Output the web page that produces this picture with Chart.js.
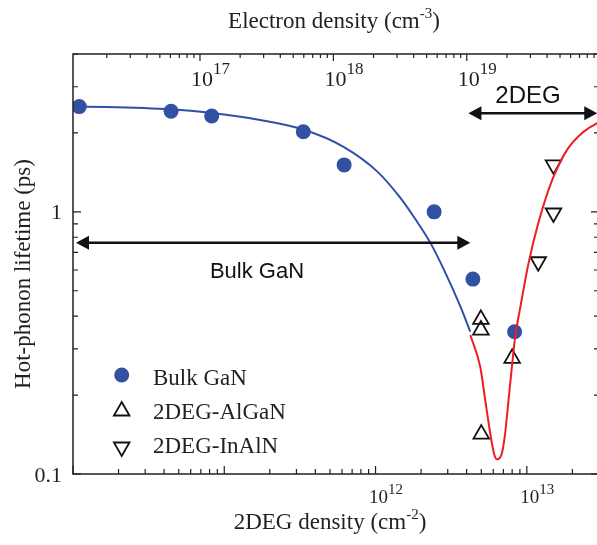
<!DOCTYPE html>
<html lang="en">
<head>
  <meta charset="UTF-8" />
  <title>Hot-phonon lifetime</title>
  <style>
    html, body { margin: 0; padding: 0; background: #fff; overflow: hidden; }
    canvas { display: block; }
  </style>
</head>
<body>
  <canvas id="chart" width="600" height="545"></canvas>
  <script src="https://cdn.jsdelivr.net/npm/chart.js"></script>
  <script>
    // measured points (2DEG density in cm^-2, lifetime in ps)
    const bulkX = [1.10e10, 4.45e10, 8.26e10, 3.33e11, 6.2e11, 2.44e12, 4.4e12, 8.3e12];
    const bulkY = [2.52, 2.42, 2.32, 2.02, 1.51, 1.0, 0.554, 0.349];
    const alganX = [4.97e12, 4.97e12, 8.0e12, 5.0e12];
    const alganY = [0.389, 0.354, 0.276, 0.142];
    const inalnX = [1.50e13, 1.50e13, 1.19e13];
    const inalnY = [1.51, 0.99, 0.645];

    // model curves
    const bulkFitX = [1.0e10, 4.45e10, 8.26e10, 1.73e11, 3.33e11, 6.14e11, 1.02e12, 1.46e12, 1.83e12, 2.30e12, 2.88e12, 3.63e12, 4.23e12];
    const bulkFitY = [2.53, 2.46, 2.38, 2.24, 2.06, 1.77, 1.43, 1.13, 0.939, 0.763, 0.589, 0.437, 0.349];
    const degFitX = [4.23e12, 4.92e12, 5.31e12, 5.73e12, 6.08e12, 6.34e12, 6.84e12, 7.19e12, 7.57e12, 7.97e12, 8.38e12, 9.04e12, 1.026e13, 1.19e13, 1.47e13, 1.84e13, 2.37e13, 3.0e13];
    const degFitY = [0.339, 0.2566, 0.1915, 0.143, 0.1192, 0.1138, 0.12, 0.143, 0.1915, 0.2566, 0.334, 0.43, 0.636, 0.904, 1.32, 1.72, 2.02, 2.20];

    // axis ranges and labels
    const X_MIN = 1e10, X_MAX = 3e13;        // 2DEG density (cm^-2)
    const X2_MIN = 1.117e16, X2_MAX = 9.8e19; // electron density (cm^-3)
    const Y_MIN = 0.1, Y_MAX = 4;
    const bottomLabels = [[1e12, '12'], [1e13, '13']];
    const topLabels = [[1e17, '17'], [1e18, '18'], [1e19, '19']];
    const yLabels = [[0.1, '0.1'], [1, '1']];

    // range arrows
    const bulkArrow = { from: 1.047e10, to: 4.23e12, y: 0.763, text: 'Bulk GaN' };
    const degArrow = { from: 4.11e12, to: 2.92e13, y: 2.376, text: '2DEG' };

    const BLUE = '#3351a3';
    const BLUE_LINE = '#3050a8';
    const RED = '#ee1d23';
    const AXIS = '#231f20';
    const serif = '"Liberation Serif", "Times New Roman", serif';
    const sans = '"Liberation Sans", Arial, sans-serif';

    function pts(xs, ys) {
      return xs.map((x, i) => ({ x: x, y: ys[i] }));
    }

    function logTicks(min, max) {
      const out = [];
      for (let k = Math.floor(Math.log10(min)); k <= Math.ceil(Math.log10(max)); k++) {
        for (let m = 1; m <= 9; m++) {
          const v = m * Math.pow(10, k);
          if (v >= min * 0.999 && v <= max * 1.001) out.push({ v: v, major: m === 1 });
        }
      }
      return out;
    }

    // text made of pieces: [text, size, raise]
    function richText(ctx, parts, x, y, align) {
      let total = 0;
      parts.forEach(p => {
        ctx.font = p[1] + 'px ' + serif;
        p.w = ctx.measureText(p[0]).width;
        total += p.w;
      });
      let cx = align === 'center' ? x - total / 2 : x;
      ctx.textAlign = 'left';
      ctx.textBaseline = 'alphabetic';
      parts.forEach(p => {
        ctx.font = p[1] + 'px ' + serif;
        ctx.fillText(p[0], cx, y - (p[2] || 0));
        cx += p.w;
      });
    }

    function arrow(ctx, x1, x2, y) {
      const hl = 13, hw = 7;
      ctx.lineWidth = 2.5;
      ctx.beginPath();
      ctx.moveTo(x1 + hl - 2, y);
      ctx.lineTo(x2 - hl + 2, y);
      ctx.stroke();
      ctx.beginPath();
      ctx.moveTo(x1, y);
      ctx.lineTo(x1 + hl, y - hw);
      ctx.lineTo(x1 + hl, y + hw);
      ctx.closePath();
      ctx.fill();
      ctx.beginPath();
      ctx.moveTo(x2, y);
      ctx.lineTo(x2 - hl, y - hw);
      ctx.lineTo(x2 - hl, y + hw);
      ctx.closePath();
      ctx.fill();
    }

    const framePlugin = {
      id: 'frame',
      afterDraw(chart) {
        const ctx = chart.ctx;
        const { left, right, top, bottom } = chart.chartArea;
        const sx = chart.scales.x, sx2 = chart.scales.x2, sy = chart.scales.y;
        ctx.save();
        ctx.strokeStyle = AXIS;
        ctx.fillStyle = AXIS;

        // frame
        ctx.lineWidth = 1.5;
        ctx.beginPath();
        ctx.moveTo(right, top);
        ctx.lineTo(left, top);
        ctx.lineTo(left, bottom);
        ctx.lineTo(right, bottom);
        ctx.lineTo(right, top);
        ctx.stroke();

        // inward ticks
        ctx.lineWidth = 1.2;
        ctx.beginPath();
        logTicks(X_MIN, X_MAX).forEach(t => {
          const px = sx.getPixelForValue(t.v);
          ctx.moveTo(px, bottom);
          ctx.lineTo(px, bottom - (t.major ? 8 : 5));
        });
        logTicks(X2_MIN, X2_MAX).forEach(t => {
          const px = sx2.getPixelForValue(t.v);
          ctx.moveTo(px, top);
          ctx.lineTo(px, top + (t.major ? 7 : 4));
        });
        logTicks(Y_MIN, Y_MAX).forEach(t => {
          const py = sy.getPixelForValue(t.v);
          const len = t.major ? 8 : 5;
          ctx.moveTo(left, py);
          ctx.lineTo(left + len, py);
          ctx.moveTo(right, py);
          ctx.lineTo(right - len, py);
        });
        ctx.stroke();

        // tick labels
        ctx.fillStyle = '#231f20';
        bottomLabels.forEach(l => {
          const px = sx.getPixelForValue(l[0]);
          richText(ctx, [['10', 19], [l[1], 15, 9]], px - 6.5, 503, 'left');
        });
        topLabels.forEach(l => {
          const px = sx2.getPixelForValue(l[0]);
          richText(ctx, [['10', 22], [l[1], 17, 12]], px - 9, 86, 'left');
        });
        ctx.font = '22px ' + serif;
        ctx.textAlign = 'right';
        ctx.textBaseline = 'alphabetic';
        yLabels.forEach(l => {
          ctx.fillText(l[1], left - 11, sy.getPixelForValue(l[0]) + 7.5);
        });

        // axis titles
        richText(ctx, [['Electron density (cm', 23], ['-3', 15, 10], [')', 23]], 334, 28, 'center');
        richText(ctx, [['2DEG density (cm', 23], ['-2', 15, 10], [')', 23]], 330, 529, 'center');
        ctx.save();
        ctx.translate(30, 274);
        ctx.rotate(-Math.PI / 2);
        ctx.font = '23px ' + serif;
        ctx.textAlign = 'center';
        ctx.fillText('Hot-phonon lifetime (ps)', 0, 0);
        ctx.restore();

        // range arrows
        ctx.fillStyle = '#111';
        ctx.strokeStyle = '#111';
        [bulkArrow, degArrow].forEach(a => {
          const y = sy.getPixelForValue(a.y);
          arrow(ctx, sx.getPixelForValue(a.from), sx.getPixelForValue(a.to), y);
        });
        ctx.font = '22px ' + sans;
        ctx.textAlign = 'center';
        ctx.textBaseline = 'middle';
        ctx.fillText(bulkArrow.text, 257, 272);
        ctx.font = '24px ' + sans;
        ctx.fillText(degArrow.text, 528, 96);

        // legend
        const lx = 121.7;
        ctx.fillStyle = BLUE;
        ctx.beginPath();
        ctx.arc(lx, 375, 7.5, 0, Math.PI * 2);
        ctx.fill();
        ctx.strokeStyle = '#111';
        ctx.lineWidth = 1.8;
        const r = 9;
        ctx.beginPath();
        ctx.moveTo(lx, 411 - r);
        ctx.lineTo(lx + r * 0.866, 411 + r / 2);
        ctx.lineTo(lx - r * 0.866, 411 + r / 2);
        ctx.closePath();
        ctx.stroke();
        ctx.beginPath();
        ctx.moveTo(lx, 447 + r);
        ctx.lineTo(lx + r * 0.866, 447 - r / 2);
        ctx.lineTo(lx - r * 0.866, 447 - r / 2);
        ctx.closePath();
        ctx.stroke();
        ctx.fillStyle = '#231f20';
        ctx.font = '23px ' + serif;
        ctx.textAlign = 'left';
        ctx.textBaseline = 'alphabetic';
        ctx.fillText('Bulk GaN', 153, 385);
        ctx.fillText('2DEG-AlGaN', 153, 419);
        ctx.fillText('2DEG-InAlN', 153, 453);

        ctx.restore();
      }
    };

    new Chart(document.getElementById('chart'), {
      type: 'scatter',
      data: {
        datasets: [
          {
            label: 'Bulk fit',
            data: pts(bulkFitX, bulkFitY),
            showLine: true,
            borderColor: BLUE_LINE,
            borderWidth: 2,
            pointRadius: 0,
            cubicInterpolationMode: 'monotone',
            order: 0
          },
          {
            label: '2DEG fit',
            data: pts(degFitX, degFitY),
            showLine: true,
            borderColor: RED,
            borderWidth: 2,
            pointRadius: 0,
            cubicInterpolationMode: 'monotone',
            order: 0
          },
          {
            label: 'Bulk GaN',
            data: pts(bulkX, bulkY),
            pointStyle: 'circle',
            pointRadius: 7.5,
            backgroundColor: BLUE,
            borderWidth: 0,
            order: 1
          },
          {
            label: '2DEG-AlGaN',
            data: pts(alganX, alganY),
            pointStyle: 'triangle',
            pointRadius: 9,
            backgroundColor: 'rgba(0,0,0,0)',
            borderColor: '#111',
            borderWidth: 1.8,
            order: 1
          },
          {
            label: '2DEG-InAlN',
            data: pts(inalnX, inalnY),
            pointStyle: 'triangle',
            rotation: 180,
            pointRadius: 9,
            backgroundColor: 'rgba(0,0,0,0)',
            borderColor: '#111',
            borderWidth: 1.8,
            order: 1
          }
        ]
      },
      options: {
        responsive: false,
        animation: false,
        events: [],
        layout: { autoPadding: false, padding: { left: 73, right: 1, top: 54, bottom: 71 } },
        plugins: {
          legend: { display: false },
          tooltip: { enabled: false }
        },
        scales: {
          x: { type: 'logarithmic', position: 'bottom', min: X_MIN, max: X_MAX, display: false },
          x2: { type: 'logarithmic', position: 'top', min: X2_MIN, max: X2_MAX, display: false },
          y: { type: 'logarithmic', min: Y_MIN, max: Y_MAX, display: false }
        }
      },
      plugins: [framePlugin]
    });
  </script>
</body>
</html>
